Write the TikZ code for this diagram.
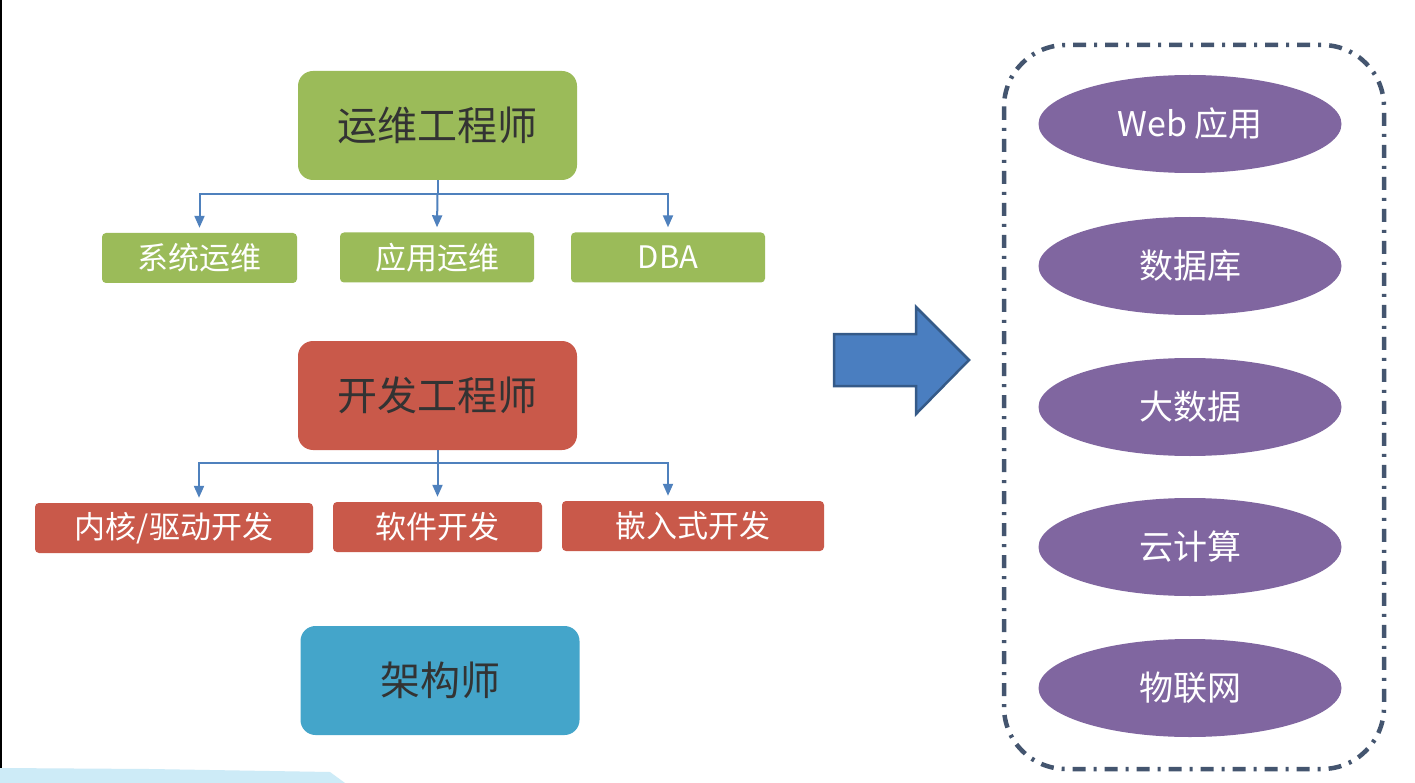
\documentclass[tikz,border=0pt]{standalone}
\usepackage{fontspec}
\setmainfont{Noto Sans CJK SC}
\usetikzlibrary{shapes.geometric,arrows.meta}

\definecolor{grn}{HTML}{9BBB59}
\definecolor{rd}{HTML}{C9594A}
\definecolor{cyn}{HTML}{44A5CA}
\definecolor{purp}{HTML}{8066A0}
\definecolor{lnk}{HTML}{4F81BD}
\definecolor{arrfill}{HTML}{4A7EC0}
\definecolor{arredge}{HTML}{355A88}
\definecolor{frame}{HTML}{44556F}
\definecolor{txtdark}{HTML}{333333}
\definecolor{strip}{HTML}{CDEBF7}

\tikzset{
  rolebox/.style={rounded corners=15pt, minimum width=279pt, minimum height=109pt,
    text=txtdark, font=\fontsize{40}{44}\selectfont, inner sep=0pt},
  subbox/.style={rounded corners=4pt, minimum height=50pt,
    text=white, font=\fontsize{31}{35}\selectfont, inner sep=0pt},
  field/.style={ellipse, fill=purp, minimum width=303pt, minimum height=98pt,
    text=white, font=\fontsize{34}{38}\selectfont, inner sep=0pt},
  link/.style={draw=lnk, line width=2pt, -{Triangle[width=10pt,length=12pt]}},
}

\begin{document}
\begin{tikzpicture}[x=1pt,y=-1pt]
  \useasboundingbox (0,0) rectangle (1415,783);
  \fill[white] (0,0) rectangle (1415,783);
  \draw[black, line width=1.5pt] (0.75,0) -- (0.75,783);
  \fill[strip] (0,768) -- (150,769) -- (330,772) -- (345,783) -- (0,783) -- cycle;

  % role boxes
  \node[rolebox, fill=grn] (ops) at (437.5,125.5) {运维工程师};
  \node[rolebox, fill=rd]  (dev) at (437.5,395.5) {开发工程师};
  \node[rolebox, fill=cyn] (arch) at (440,680.5) {架构师};

  % operations branches
  \node[subbox, fill=grn, minimum width=195pt] (sys) at (199.5,258) {系统运维};
  \node[subbox, fill=grn, minimum width=194pt] (app) at (437,257.5) {应用运维};
  \node[subbox, fill=grn, minimum width=194pt] (dba) at (668,257.5) {DBA};

  % development branches
  \node[subbox, fill=rd, minimum width=278pt] (kern) at (174,528) {内核/驱动开发};
  \node[subbox, fill=rd, minimum width=209pt] (soft) at (437.5,527) {软件开发};
  \node[subbox, fill=rd, minimum width=262pt] (emb)  at (693,526) {嵌入式开发};

  \coordinate (opsbus) at (437.5,194);
  \draw[link] (ops.south) -- (opsbus) -| ([yshift=5pt]sys.north);
  \draw[link] (opsbus) -- ([yshift=5pt]app.north);
  \draw[link] (opsbus) -| ([yshift=5pt]dba.north);

  \coordinate (devbus) at (437.5,463);
  \draw[link] (dev.south) -- (devbus) -| ([xshift=25pt,yshift=5pt]kern.north);
  \draw[link] (devbus) -- ([yshift=5pt]soft.north);
  \draw[link] (devbus) -| ([xshift=-25pt,yshift=5pt]emb.north);

  % block arrow
  \draw[fill=arrfill, draw=arredge, line width=2.5pt, line join=miter]
    (834,334) -- (916,334) -- (916,307) -- (969,360) -- (916,414)
    -- (916,386) -- (834,386) -- cycle;

  % application fields
  \draw[frame, line width=4.5pt, rounded corners=62pt,
        dash pattern=on 13pt off 8pt on 3pt off 8pt]
    (1004,45) rectangle (1384,769);
  \node[field] (web)   at (1190,124) {Web 应用};
  \node[field] (db)    at (1190,266) {数据库};
  \node[field] (big)   at (1190,407) {大数据};
  \node[field] (cloud) at (1190,547) {云计算};
  \node[field] (iot)   at (1190,688) {物联网};
\end{tikzpicture}
\end{document}
